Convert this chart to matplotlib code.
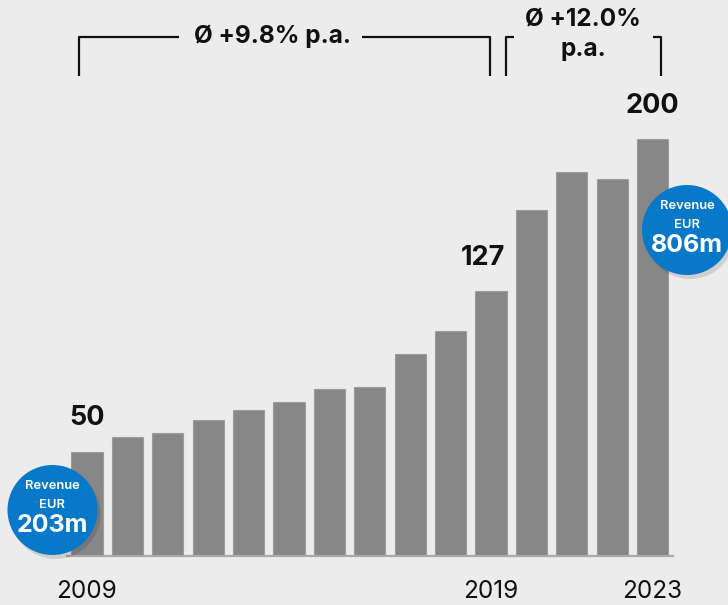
import matplotlib
matplotlib.use("Agg")
import matplotlib.pyplot as plt
from matplotlib.patches import Circle

years = [2009, 2010, 2011, 2012, 2013, 2014, 2015, 2016, 2017, 2018, 2019, 2020, 2021, 2022, 2023]
values = [50, 57, 59, 65, 70, 74, 80, 81, 97, 108, 127, 166, 184, 181, 200]
labelled_years = [2009, 2019, 2023]
value_labels = {2009: "50", 2019: "127", 2023: "200"}
cagr_1 = "Ø +9.8% p.a."
cagr_2 = "Ø +12.0%\np.a."
circle_texts = [("Revenue", "EUR", "203m"), ("Revenue", "EUR", "806m")]

BG = "#ececec"
BAR = "#878787"
BLUE = "#0878c8"
FONT = "Inter"

W, H = 728, 605
fig = plt.figure(figsize=(W / 100, H / 100), dpi=100, facecolor=BG)

ax = fig.add_axes([66.8 / W, 49 / H, 606 / W, 556 / H])
ax.set_facecolor(BG)
x = list(range(len(years)))
ax.bar(x, values, width=0.77, color=BAR, edgecolor="#9c9c9c", linewidth=0.8, zorder=2)
ax.set_xlim(-0.5, len(years) - 0.5)
ax.set_ylim(0, 556 / 2.085)
for s in ["top", "right", "left"]:
    ax.spines[s].set_visible(False)
ax.spines["bottom"].set_color("#a9a9a9")
ax.spines["bottom"].set_linewidth(1.6)
ax.set_yticks([])
ax.set_xticks([years.index(y) for y in labelled_years])
ax.set_xticklabels([str(y) for y in labelled_years], fontsize=17.5, family=FONT, color="#111111")
ax.tick_params(axis="x", length=0, pad=17)

offsets = {2009: 0, 2019: -5.5, 2023: 0}
for yr, txt in value_labels.items():
    i = years.index(yr)
    ax.annotate(txt, (i, values[i]), xytext=(offsets[yr], 24), textcoords="offset points",
                ha="center", va="center", fontsize=19.5, fontweight="bold", family=FONT, color="#111111")

# overlay in pixel coordinates for decorations
ov = fig.add_axes([0, 0, 1, 1], facecolor="none")
ov.set_xlim(0, W)
ov.set_ylim(H, 0)
ov.axis("off")

lw = 1.6
# bracket 1
ov.plot([79, 79, 179], [76, 37, 37], color="#111111", lw=lw, solid_capstyle="butt")
ov.plot([362, 490, 490], [37, 37, 76], color="#111111", lw=lw, solid_capstyle="butt")
ov.text(273, 36, cagr_1, ha="center", va="center", fontsize=17.5, fontweight="bold", family=FONT, color="#111111")
# bracket 2
ov.plot([514, 506, 506], [37, 37, 76], color="#111111", lw=lw, solid_capstyle="butt")
ov.plot([653, 661, 661], [37, 37, 76], color="#111111", lw=lw, solid_capstyle="butt")
ov.text(583, 35, cagr_2, ha="center", va="center", fontsize=17.5, fontweight="bold", family=FONT,
        color="#111111", linespacing=1.35)

# revenue circles
for (cx, cy), (t1, t2, t3) in zip([(52.5, 510), (687, 230)], circle_texts):
    ov.add_patch(Circle((cx + 3, cy + 4), 45, color="#000000", alpha=0.12, zorder=4, lw=0))
    ov.add_patch(Circle((cx, cy), 45, color=BLUE, zorder=5, lw=0))
    ov.text(cx, cy - 24, t1, ha="center", va="center", fontsize=9.3, fontweight="semibold", color="white", family=FONT, zorder=6)
    ov.text(cx, cy - 5, t2, ha="center", va="center", fontsize=9.3, fontweight="semibold", color="white", family=FONT, zorder=6)
    ov.text(cx, cy + 16, t3, ha="center", va="center", fontsize=18, fontweight="bold", color="white", family=FONT, zorder=6)

fig.savefig("out.png", dpi=100, facecolor=BG)
